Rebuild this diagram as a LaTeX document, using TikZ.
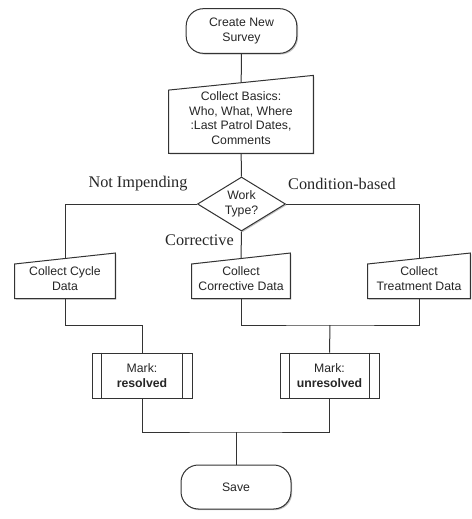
\documentclass[tikz,border=0pt]{standalone}
\usepackage{fontspec}
\setmainfont{Liberation Sans}
\newfontfamily\labelfont{Liberation Serif}
\usetikzlibrary{shapes.geometric,shadows,calc,backgrounds}
\begin{document}
\begin{tikzpicture}[x=0.75pt,y=-0.75pt,
  every node/.style={font=\fontsize{9.2}{11}\selectfont, text=black!85},
  line/.style={draw=black!80, line width=0.75pt},
  shd/.style={drop shadow={shadow xshift=0.9pt, shadow yshift=-0.9pt, opacity=0.4, fill=black!60}},
  term/.style={line, shd, fill=white, rounded corners=13pt, minimum width=83pt, minimum height=33.5pt, align=center, inner sep=0pt},
  inbox/.style={align=center, inner sep=0pt, rectangle},
  proc/.style={line, shd, fill=white, rectangle, minimum width=75pt, minimum height=33.75pt, align=center, inner sep=0pt},
  decision/.style={line, shd, fill=white, diamond, aspect=1.63, minimum width=66pt, minimum height=40.5pt, inner sep=0pt, align=center},
  branch/.style={font=\labelfont\fontsize{12.2}{14}\selectfont, text=black!85},
  manual/.style={line, shd, fill=white},
]
\useasboundingbox (0,0) rectangle (472,519);

% nodes
\node[term] (start) at (241.5,31) {Create New\\Survey};
\node[inbox, minimum width=108pt, minimum height=52.5pt] (basics) at (241,118) {Collect Basics:\\Who, What, Where\\:Last Patrol Dates,\\Comments};
\node[decision] (wt) at (241.5,204) {Work\\Type?};
\node[inbox, minimum width=75pt, minimum height=29.6pt] (cycle) at (65,278.5) {Collect Cycle\\Data};
\node[inbox, minimum width=73.5pt, minimum height=29.6pt] (corr) at (241,278.5) {Collect\\Corrective Data};
\node[inbox, minimum width=76.5pt, minimum height=29.6pt] (treat) at (419,278.5) {Collect\\Treatment Data};
\node[proc] (res) at (142,375.5) {Mark:\\\textbf{resolved}};
\node[proc, minimum width=74.25pt] (unres) at (329.5,375.5) {Mark:\\\textbf{unresolved}};
\node[term, minimum width=82.5pt, minimum height=33pt] (save) at (236,487) {Save};

% branch labels
\node[branch] (lni) at (138,184) {Not Impending};
\node[branch] (lcb) at (342,184) {Condition-based};
\node[branch] (lco) at (199.5,240) {Corrective};

% manual input outlines
\begin{pgfonlayer}{background}
\draw[manual] (basics.south west) -- (basics.south east) -- ([yshift=5.5pt]basics.north east) -- ([yshift=-5.5pt]basics.north west) -- cycle;
\foreach \n in {cycle,corr,treat}{
  \draw[manual] (\n.south west) -- (\n.south east) -- ([yshift=4.1pt]\n.north east) -- ([yshift=-4.1pt]\n.north west) -- cycle;
}
\end{pgfonlayer}

% predefined process inner lines
\foreach \n in {res,unres}{
  \draw[line] ([xshift=7.5pt]\n.north west) -- ([xshift=7.5pt]\n.south west);
  \draw[line] ([xshift=-7.5pt]\n.north east) -- ([xshift=-7.5pt]\n.south east);
}

% junction coordinates
\coordinate (jA) at (142,325);
\coordinate (jB) at (330,325);
\coordinate (jC) at (236,432);

% connectors
\draw[line] (start) -- (basics);
\draw[line] (basics) -- (wt);
\draw[line] (wt.west) -| (cycle.north);
\draw[line] (wt.east) -| (treat.north);
\draw[line] (wt.south) -- (corr.north);
\draw[line] (cycle.south) |- (jA) -- (res.north);
\draw[line] (corr.south) |- (jB) -| (treat.south);
\draw[line] (jB) -- (unres.north);
\draw[line] (res.south) |- (jC) -| (unres.south);
\draw[line] (jC) -- (save.north);
\end{tikzpicture}
\end{document}
